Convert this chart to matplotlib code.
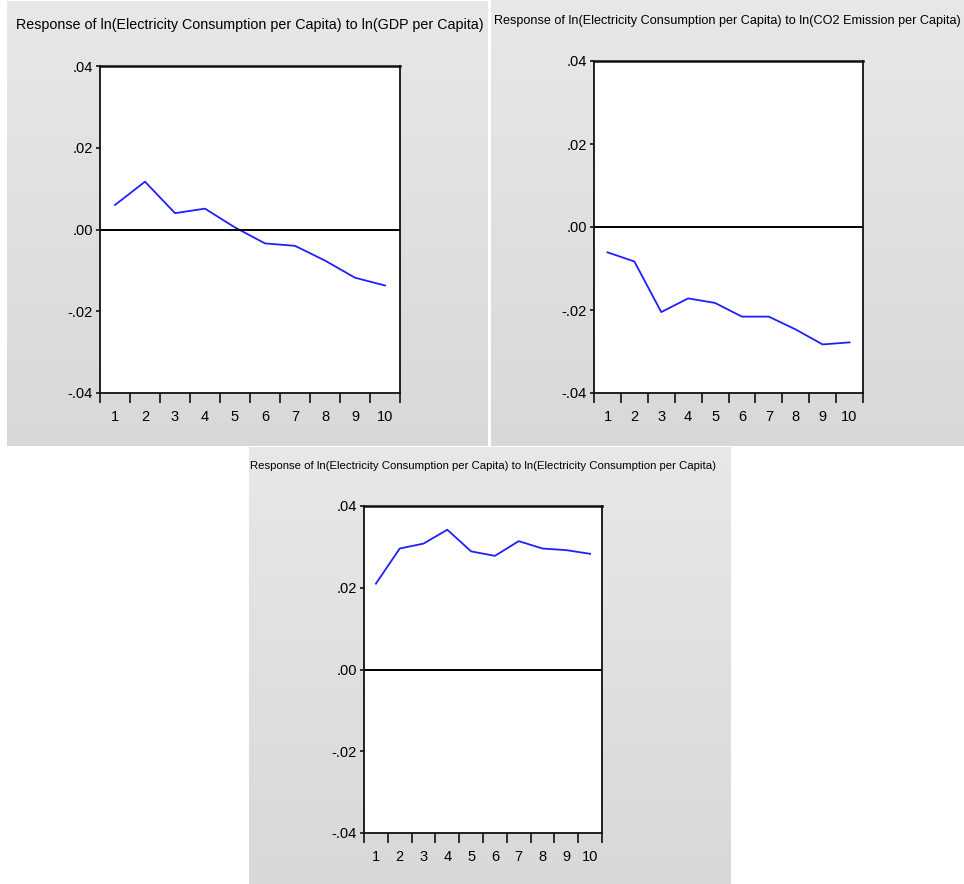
import matplotlib
matplotlib.use("Agg")
import matplotlib.pyplot as plt
import numpy as np

plt.rcParams['font.family'] = ['Liberation Sans', 'DejaVu Sans']

# impulse responses, periods 1..10
periods = [1, 2, 3, 4, 5, 6, 7, 8, 9, 10]
resp_gdp = [0.0060, 0.0117, 0.0040, 0.0051, 0.0005, -0.0034, -0.0040, -0.0076, -0.0118, -0.0137]
resp_co2 = [-0.0061, -0.0083, -0.0205, -0.0172, -0.0183, -0.0216, -0.0216, -0.0247, -0.0283, -0.0278]
resp_elec = [0.0210, 0.0296, 0.0308, 0.0342, 0.0289, 0.0278, 0.0314, 0.0296, 0.0292, 0.0283]

titles = ["Response of ln(Electricity Consumption per Capita) to ln(GDP per Capita)",
          "Response of ln(Electricity Consumption per Capita) to ln(CO2 Emission per Capita)",
          "Response of ln(Electricity Consumption per Capita) to ln(Electricity Consumption per Capita)"]
yticks = [-0.04, -0.02, 0.0, 0.02, 0.04]
ytick_labels = ['-.04', '-.02', '.00', '.02', '.04']

W, H = 964, 884
fig = plt.figure(figsize=(W / 100, H / 100), dpi=100)
fig.patch.set_facecolor('white')

def px_rect(l, t, r, b):
    return [l / W, 1 - b / H, (r - l) / W, (b - t) / H]

# gray gradient panels (l, t, r, b) in pixels
bg_boxes = [(7, 1, 488, 446), (491, 0, 964, 446), (249, 447, 731, 884)]
grad = np.linspace(0.905, 0.845, 100).reshape(-1, 1)
for box in bg_boxes:
    bax = fig.add_axes(px_rect(*box), zorder=0)
    bax.imshow(grad, cmap='gray', vmin=0, vmax=1, aspect='auto', extent=[0, 1, 0, 1])
    bax.set_axis_off()

plot_boxes = [(100, 66, 400, 393), (594, 61, 863, 393), (364, 506, 602, 833)]
series = [resp_gdp, resp_co2, resp_elec]

for box, vals in zip(plot_boxes, series):
    ax = fig.add_axes(px_rect(*box), zorder=2)
    ax.set_facecolor('white')
    ax.plot(periods, vals, color='#1f1fff', lw=1.3)
    ax.axhline(0, color='black', lw=1.4)
    ax.set_xlim(0.5, 10.5)
    ax.set_ylim(-0.04, 0.04)
    ax.set_xticks(np.arange(0.5, 11, 1))
    ax.set_xticklabels([])
    ax.set_xticks(periods, minor=True)
    ax.set_xticklabels([str(p) for p in periods], minor=True)
    ax.tick_params(axis='x', which='major', direction='out', length=7, width=1.1, color='black')
    ax.tick_params(axis='x', which='minor', length=0, pad=12, labelsize=10.5)
    ax.set_yticks(yticks)
    ax.set_yticklabels(ytick_labels)
    ax.tick_params(axis='y', direction='out', length=3, width=1.1, pad=2, labelsize=10.5)
    for s in ax.spines.values():
        s.set_linewidth(1.3)
        s.set_color('#111111')
    ax.spines['top'].set_linewidth(1.8)

# titles: (x, y, ha, target width in px)
title_pos = [(249.5, 25, 'center', 465), (494, 21, 'left', 466), (483.5, 466, 'center', 465)]
renderer = fig.canvas.get_renderer()
for txt, (x, y, ha, wpx) in zip(titles, title_pos):
    t = fig.text(x / W, 1 - y / H, txt, ha=ha, va='center', fontsize=12, zorder=3)
    w = t.get_window_extent(renderer).width
    t.set_fontsize(12 * wpx / w)

fig.savefig('out.png', dpi=100, facecolor='white')
